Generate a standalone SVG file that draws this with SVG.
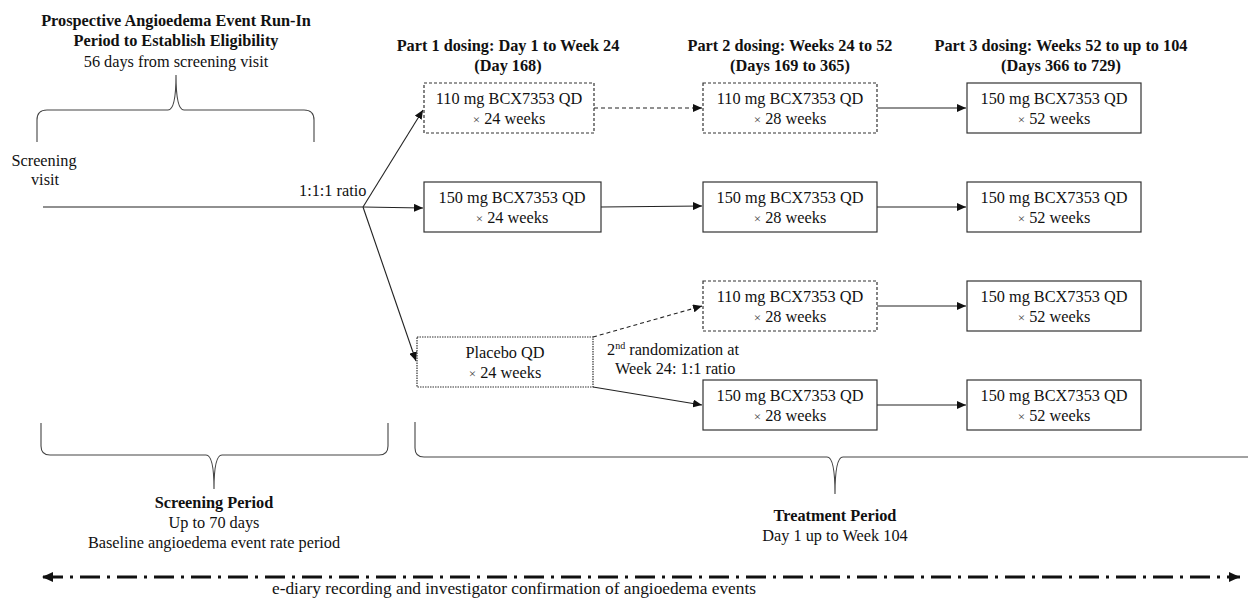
<svg xmlns="http://www.w3.org/2000/svg" width="1248" height="599" viewBox="0 0 1248 599">
<style>
text{font-family:"Liberation Serif","Times New Roman",serif;font-size:16.3px;fill:#111}
.b{font-weight:bold}
.m{text-anchor:middle}
.box{fill:#fff;stroke:#333;stroke-width:1.2}
.dash{stroke-dasharray:3 2}
.dot{stroke-dasharray:1.5 1}
.ln{fill:none;stroke:#222;stroke-width:1.1}
.dl{stroke-dasharray:4 3}
.brace{fill:none;stroke:#444;stroke-width:1.1}
.x{font-size:13px;fill:#444}
</style>
<defs>
<marker id="ah" markerWidth="10" markerHeight="8" refX="9" refY="4" orient="auto" markerUnits="userSpaceOnUse">
<path d="M0,0 L9,4 L0,8 Z" fill="#111"/>
</marker>
<marker id="ah2" markerWidth="12" markerHeight="10" refX="11" refY="5" orient="auto" markerUnits="userSpaceOnUse">
<path d="M0,0 L11,5 L0,10 Z" fill="#111"/>
</marker>
<marker id="ah2s" markerWidth="12" markerHeight="10" refX="1" refY="5" orient="auto" markerUnits="userSpaceOnUse">
<path d="M11,0 L0,5 L11,10 Z" fill="#111"/>
</marker>
</defs>

<g id="titles">
<text class="b m" x="176" y="26">Prospective Angioedema Event Run-In</text>
<text class="b m" x="176" y="46">Period to Establish Eligibility</text>
<text class="m" x="176" y="67">56 days from screening visit</text>
<text class="b m" x="508" y="51">Part 1 dosing: Day 1 to Week 24</text>
<text class="b m" x="508" y="71">(Day 168)</text>
<text class="b m" x="790" y="51">Part 2 dosing: Weeks 24 to 52</text>
<text class="b m" x="790" y="71">(Days 169 to 365)</text>
<text class="b m" x="1061" y="51">Part 3 dosing: Weeks 52 to up to 104</text>
<text class="b m" x="1061" y="71">(Days 366 to 729)</text>
<text class="m" x="44" y="166">Screening</text>
<text class="m" x="45" y="185">visit</text>
<text x="299" y="196">1:1:1 ratio</text>
<text x="607" y="355">2<tspan font-size="10" dy="-6">nd</tspan><tspan dy="6"> randomization at</tspan></text>
<text x="615" y="374">Week 24: 1:1 ratio</text>
<text class="b m" x="214" y="508">Screening Period</text>
<text class="m" x="214" y="528">Up to 70 days</text>
<text class="m" x="214" y="548">Baseline angioedema event rate period</text>
<text class="b m" x="835" y="521">Treatment Period</text>
<text class="m" x="835" y="541">Day 1 up to Week 104</text>
<text x="272" y="594" style="font-size:16px" textLength="484" lengthAdjust="spacingAndGlyphs">e-diary recording and investigator confirmation of angioedema events</text>
</g>

<g id="braces">
<path class="brace" d="M37,142 L37,120 Q37,110 47,110 L168,110 Q176,110 176,75 Q176,110 184,110 L304,110 Q314,110 314,120 L314,142"/>
<path class="brace" d="M41,423 L41,446 Q41,455 50,455 L206,455 Q214,455 214,489 Q214,455 222,455 L379,455 Q388,455 388,446 L388,423"/>
<path class="brace" d="M415,422 L415,448 Q415,457 424,457 L827,457 Q835,457 835,494 Q835,457 843,457 L1250,457"/>
</g>

<g id="connectors">
<path class="ln" d="M43,207 L363,207 L423,208" marker-end="url(#ah)"/>
<path class="ln" d="M363,207 L423,110" marker-end="url(#ah)"/>
<path class="ln" d="M363,207 L416,361" marker-end="url(#ah)"/>
<path class="ln dl" d="M594,108 L702,108" marker-end="url(#ah)"/>
<path class="ln" d="M877,108 L966,108" marker-end="url(#ah)"/>
<path class="ln" d="M601,207 L702,206" marker-end="url(#ah)"/>
<path class="ln" d="M877,207 L966,207" marker-end="url(#ah)"/>
<path class="ln dl" d="M593,337 L702,306" marker-end="url(#ah)"/>
<path class="ln" d="M877,306 L966,306" marker-end="url(#ah)"/>
<path class="ln" d="M593,387 L702,405" marker-end="url(#ah)"/>
<path class="ln" d="M877,405 L966,405" marker-end="url(#ah)"/>
<path d="M43,577 L1240,577" fill="none" stroke="#111" stroke-width="3" stroke-dasharray="20 7 3 7" marker-start="url(#ah2s)" marker-end="url(#ah2)"/>
</g>

<g id="p1-110">
<rect class="box dash" x="424" y="83" width="170" height="50"/>
<text class="m" x="509" y="104">110 mg BCX7353 QD</text>
<text class="m" x="509" y="124"><tspan class="x">×</tspan> 24 weeks</text>
</g>
<g id="p1-150">
<rect class="box" x="424" y="182" width="177" height="50"/>
<text class="m" x="512" y="203">150 mg BCX7353 QD</text>
<text class="m" x="512" y="223"><tspan class="x">×</tspan> 24 weeks</text>
</g>
<g id="p1-placebo">
<rect class="box dot" x="417" y="337" width="176" height="50"/>
<text class="m" x="505" y="358">Placebo QD</text>
<text class="m" x="505" y="378"><tspan class="x">×</tspan> 24 weeks</text>
</g>

<g id="p2-110a">
<rect class="box dash" x="703" y="83" width="174" height="50"/>
<text class="m" x="790" y="104">110 mg BCX7353 QD</text>
<text class="m" x="790" y="124"><tspan class="x">×</tspan> 28 weeks</text>
</g>
<g id="p2-150a">
<rect class="box" x="703" y="182" width="174" height="50"/>
<text class="m" x="790" y="203">150 mg BCX7353 QD</text>
<text class="m" x="790" y="223"><tspan class="x">×</tspan> 28 weeks</text>
</g>
<g id="p2-110b">
<rect class="box dash" x="703" y="281" width="174" height="50"/>
<text class="m" x="790" y="302">110 mg BCX7353 QD</text>
<text class="m" x="790" y="322"><tspan class="x">×</tspan> 28 weeks</text>
</g>
<g id="p2-150b">
<rect class="box" x="703" y="380" width="174" height="50"/>
<text class="m" x="790" y="401">150 mg BCX7353 QD</text>
<text class="m" x="790" y="421"><tspan class="x">×</tspan> 28 weeks</text>
</g>

<g id="p3-a">
<rect class="box" x="967" y="83" width="174" height="50"/>
<text class="m" x="1054" y="104">150 mg BCX7353 QD</text>
<text class="m" x="1054" y="124"><tspan class="x">×</tspan> 52 weeks</text>
</g>
<g id="p3-b">
<rect class="box" x="967" y="182" width="174" height="50"/>
<text class="m" x="1054" y="203">150 mg BCX7353 QD</text>
<text class="m" x="1054" y="223"><tspan class="x">×</tspan> 52 weeks</text>
</g>
<g id="p3-c">
<rect class="box" x="967" y="281" width="174" height="50"/>
<text class="m" x="1054" y="302">150 mg BCX7353 QD</text>
<text class="m" x="1054" y="322"><tspan class="x">×</tspan> 52 weeks</text>
</g>
<g id="p3-d">
<rect class="box" x="967" y="380" width="174" height="50"/>
<text class="m" x="1054" y="401">150 mg BCX7353 QD</text>
<text class="m" x="1054" y="421"><tspan class="x">×</tspan> 52 weeks</text>
</g>
</svg>
